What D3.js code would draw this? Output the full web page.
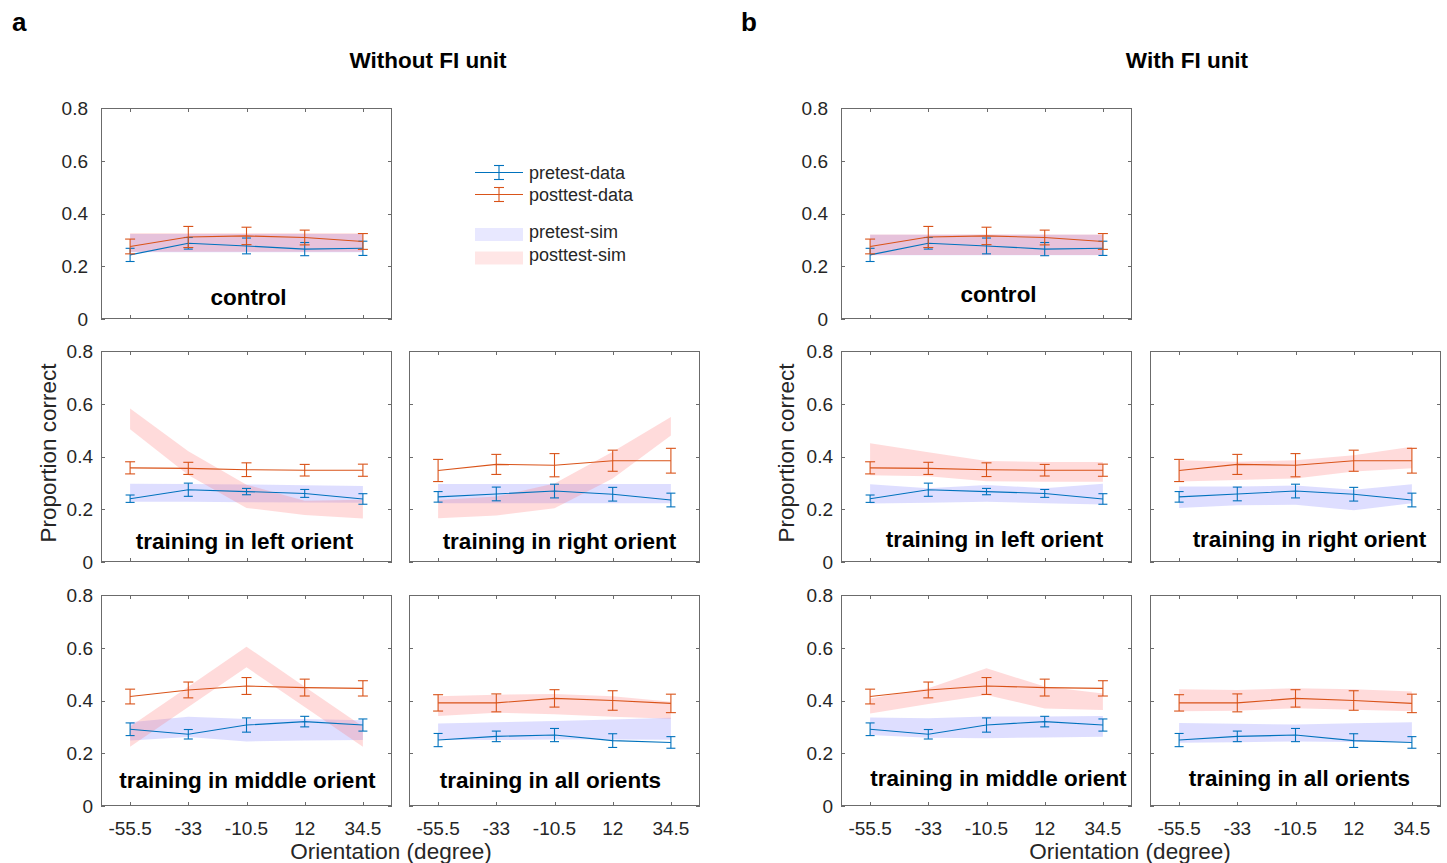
<!DOCTYPE html>
<html>
<head>
<meta charset="utf-8">
<script src="https://cdn.jsdelivr.net/npm/d3@7/dist/d3.min.js"></script>
<style>
  html, body { margin: 0; padding: 0; background: #fff; }
  svg { display: block; font-family: "Liberation Sans", Arial, Helvetica, sans-serif; }
</style>
</head>
<body>
<svg id="fig" width="1447" height="863"></svg>
<script>
// ---- Orientation conditions and axis ticks ----
const orientations = [-55.5, -33, -10.5, 12, 34.5];
const xTickLabels = ["-55.5", "-33", "-10.5", "12", "34.5"];
const yTicks = [0, 0.2, 0.4, 0.6, 0.8];
const conditionNames = ["control", "training in left orient", "training in right orient",
                        "training in middle orient", "training in all orients"];

// ---- Behavioural data: mean proportion correct and error half-widths ----
const preControl      = [0.243, 0.287, 0.277, 0.265, 0.268];
const preControlErr   = [0.025, 0.022, 0.030, 0.025, 0.027];
const postControl     = [0.275, 0.311, 0.315, 0.309, 0.294];
const postControlErr  = [0.028, 0.040, 0.033, 0.028, 0.030];

const preLeft         = [0.240, 0.274, 0.267, 0.260, 0.239];
const preLeftErr      = [0.014, 0.025, 0.012, 0.015, 0.020];
const postLeft        = [0.357, 0.355, 0.350, 0.348, 0.348];
const postLeftErr     = [0.023, 0.023, 0.026, 0.022, 0.023];

const preRight        = [0.247, 0.258, 0.269, 0.257, 0.235];
const preRightErr     = [0.020, 0.026, 0.026, 0.026, 0.026];
const postRight       = [0.347, 0.370, 0.367, 0.384, 0.384];
const postRightErr    = [0.042, 0.038, 0.044, 0.040, 0.047];

const preMiddle       = [0.291, 0.272, 0.307, 0.320, 0.307];
const preMiddleErr    = [0.024, 0.018, 0.027, 0.020, 0.023];
const postMiddle      = [0.415, 0.440, 0.455, 0.449, 0.446];
const postMiddleErr   = [0.028, 0.030, 0.032, 0.032, 0.029];

const preAll          = [0.250, 0.264, 0.269, 0.248, 0.241];
const preAllErr       = [0.025, 0.020, 0.025, 0.026, 0.022];
const postAll         = [0.391, 0.391, 0.408, 0.400, 0.389];
const postAllErr      = [0.031, 0.034, 0.033, 0.037, 0.035];

// ---- Model simulations (lower / upper bound of the band), without FI unit ----
const simPreControlLoA  = [0.253, 0.253, 0.253, 0.253, 0.253];
const simPreControlHiA  = [0.322, 0.322, 0.322, 0.322, 0.322];
const simPostControlLoA = [0.255, 0.255, 0.255, 0.255, 0.255];
const simPostControlHiA = [0.325, 0.325, 0.325, 0.325, 0.325];

const simPreLeftLoA   = [0.228, 0.228, 0.227, 0.226, 0.225];
const simPreLeftHiA   = [0.297, 0.296, 0.294, 0.291, 0.288];
const simPostLeftLoA  = [0.503, 0.330, 0.205, 0.178, 0.165];
const simPostLeftHiA  = [0.582, 0.420, 0.293, 0.232, 0.236];

const simPreRightLoA  = [0.223, 0.223, 0.223, 0.223, 0.223];
const simPreRightHiA  = [0.296, 0.296, 0.296, 0.296, 0.296];
const simPostRightLoA = [0.166, 0.176, 0.204, 0.317, 0.480];
const simPostRightHiA = [0.235, 0.248, 0.298, 0.418, 0.550];

const simPreMiddleLoA  = [0.248, 0.262, 0.245, 0.248, 0.250];
const simPreMiddleHiA  = [0.318, 0.338, 0.330, 0.330, 0.325];
const simPostMiddleLoA = [0.225, 0.375, 0.526, 0.375, 0.225];
const simPostMiddleHiA = [0.301, 0.452, 0.604, 0.452, 0.301];

const simPreAllLoA    = [0.250, 0.250, 0.252, 0.252, 0.251];
const simPreAllHiA    = [0.313, 0.318, 0.322, 0.328, 0.335];
const simPostAllLoA   = [0.341, 0.354, 0.348, 0.338, 0.331];
const simPostAllHiA   = [0.416, 0.422, 0.425, 0.416, 0.395];

// ---- Model simulations, with FI unit ----
const simPreControlLoB  = [0.242, 0.242, 0.242, 0.242, 0.242];
const simPreControlHiB  = [0.319, 0.319, 0.319, 0.319, 0.319];
const simPostControlLoB = [0.243, 0.243, 0.243, 0.243, 0.243];
const simPostControlHiB = [0.320, 0.320, 0.320, 0.320, 0.320];

const simPreLeftLoB   = [0.222, 0.225, 0.228, 0.223, 0.218];
const simPreLeftHiB   = [0.295, 0.280, 0.292, 0.280, 0.297];
const simPostLeftLoB  = [0.329, 0.325, 0.306, 0.304, 0.304];
const simPostLeftHiB  = [0.450, 0.416, 0.383, 0.379, 0.379];

const simPreRightLoB  = [0.205, 0.215, 0.217, 0.196, 0.223];
const simPreRightHiB  = [0.286, 0.286, 0.290, 0.274, 0.295];
const simPostRightLoB = [0.305, 0.311, 0.317, 0.343, 0.355];
const simPostRightHiB = [0.386, 0.380, 0.386, 0.405, 0.437];

const simPreMiddleLoB  = [0.269, 0.259, 0.257, 0.260, 0.263];
const simPreMiddleHiB  = [0.336, 0.333, 0.339, 0.339, 0.341];
const simPostMiddleLoB = [0.351, 0.387, 0.421, 0.370, 0.364];
const simPostMiddleHiB = [0.408, 0.446, 0.522, 0.453, 0.427];

const simPreAllLoB    = [0.240, 0.242, 0.245, 0.243, 0.244];
const simPreAllHiB    = [0.315, 0.312, 0.309, 0.314, 0.318];
const simPostAllLoB   = [0.359, 0.361, 0.371, 0.365, 0.359];
const simPostAllHiB   = [0.443, 0.440, 0.446, 0.443, 0.434];

// ---- Styling ----
const BLUE = "#0072BD", ORANGE = "#D95319";
const PRE_FILL = "#5a5aff", PRE_OPACITY = 0.2;
const POST_FILL = "#ff6f6f", POST_OPACITY = 0.25;
const AXIS = "#6b6b6b", TICK_TEXT = "#262626";

// ---- Panel table: condition, data and simulation per subplot ----
const dataByCond = [
  { pre: preControl, preErr: preControlErr, post: postControl, postErr: postControlErr },
  { pre: preLeft,    preErr: preLeftErr,    post: postLeft,    postErr: postLeftErr },
  { pre: preRight,   preErr: preRightErr,   post: postRight,   postErr: postRightErr },
  { pre: preMiddle,  preErr: preMiddleErr,  post: postMiddle,  postErr: postMiddleErr },
  { pre: preAll,     preErr: preAllErr,     post: postAll,     postErr: postAllErr }
];
const simA = [
  [simPreControlLoA, simPreControlHiA, simPostControlLoA, simPostControlHiA],
  [simPreLeftLoA, simPreLeftHiA, simPostLeftLoA, simPostLeftHiA],
  [simPreRightLoA, simPreRightHiA, simPostRightLoA, simPostRightHiA],
  [simPreMiddleLoA, simPreMiddleHiA, simPostMiddleLoA, simPostMiddleHiA],
  [simPreAllLoA, simPreAllHiA, simPostAllLoA, simPostAllHiA]
];
const simB = [
  [simPreControlLoB, simPreControlHiB, simPostControlLoB, simPostControlHiB],
  [simPreLeftLoB, simPreLeftHiB, simPostLeftLoB, simPostLeftHiB],
  [simPreRightLoB, simPreRightHiB, simPostRightLoB, simPostRightHiB],
  [simPreMiddleLoB, simPreMiddleHiB, simPostMiddleLoB, simPostMiddleHiB],
  [simPreAllLoB, simPreAllHiB, simPostAllLoB, simPostAllHiB]
];

// subplot grid geometry
const colX = { A: [101, 409], B: [841, 1150] };
const rowY = [108, 351, 595];
const PW = 291, PH = 211;
// [condition index, row, col, label nudge x, label baseline offset from bottom]
const gridA = [[0, 0, 0, 2, 14], [1, 1, 0, -2, 13], [2, 1, 1, 5, 13], [3, 2, 0, 1, 18], [4, 2, 1, -4, 18]];
const gridB = [[0, 0, 0, 12, 17], [1, 1, 0, 8, 15], [2, 1, 1, 14, 15], [3, 2, 0, 12, 20], [4, 2, 1, 4, 20]];

const svg = d3.select("#fig");

function drawPanel(model, spec, sims) {
  const [ci, row, col, labelDx, labelDy] = spec;
  const x0 = colX[model][col], y0 = rowY[row];
  const g = svg.append("g").attr("transform", `translate(${x0},${y0})`);

  const x = d3.scalePoint().domain(orientations).range([0, PW]).padding(0.5);
  const y = d3.scaleLinear().domain([0, 0.8]).range([PH, 0]);

  const [preLo, preHi, postLo, postHi] = sims[ci];
  const d = dataByCond[ci];

  const band = d3.area()
    .x((v, i) => x(orientations[i]))
    .y0(v => y(v[0]))
    .y1(v => y(v[1]));

  g.append("path").datum(d3.zip(preLo, preHi))
    .attr("d", band).attr("fill", PRE_FILL).attr("fill-opacity", PRE_OPACITY);
  g.append("path").datum(d3.zip(postLo, postHi))
    .attr("d", band).attr("fill", POST_FILL).attr("fill-opacity", POST_OPACITY);

  const line = d3.line().x((v, i) => x(orientations[i])).y(v => y(v));

  function series(vals, errs, color, cap) {
    g.append("path").datum(vals).attr("d", line)
      .attr("fill", "none").attr("stroke", color).attr("stroke-width", 1.1);
    const eb = g.append("g").attr("stroke", color).attr("stroke-width", 1.1);
    vals.forEach((v, i) => {
      const cx = x(orientations[i]);
      const top = y(v + errs[i]), bot = y(v - errs[i]);
      eb.append("line").attr("x1", cx).attr("x2", cx).attr("y1", top).attr("y2", bot);
      eb.append("line").attr("x1", cx - cap).attr("x2", cx + cap).attr("y1", top).attr("y2", top);
      eb.append("line").attr("x1", cx - cap).attr("x2", cx + cap).attr("y1", bot).attr("y2", bot);
    });
  }
  series(d.pre, d.preErr, BLUE, 4.5);
  series(d.post, d.postErr, ORANGE, 5);

  // box with inward ticks on all four sides
  const tick = 4;
  const axG = g.append("g").attr("stroke", AXIS).attr("stroke-width", 1).attr("fill", "none");
  axG.append("rect").attr("x", 0.5).attr("y", 0.5).attr("width", PW - 1).attr("height", PH - 1);
  orientations.forEach(o => {
    const tx = Math.round(x(o)) + 0.5;
    axG.append("line").attr("x1", tx).attr("x2", tx).attr("y1", PH).attr("y2", PH - tick);
    axG.append("line").attr("x1", tx).attr("x2", tx).attr("y1", 0).attr("y2", tick);
  });
  yTicks.forEach(t => {
    const ty = Math.round(y(t)) + 0.5;
    axG.append("line").attr("x1", 0).attr("x2", tick).attr("y1", ty).attr("y2", ty);
    axG.append("line").attr("x1", PW).attr("x2", PW - tick).attr("y1", ty).attr("y2", ty);
  });

  // tick labels
  if (col === 0) {
    const gap = row === 0 ? 13 : 8;
    g.append("g").selectAll("text").data(yTicks).join("text")
      .attr("x", -gap).attr("y", t => y(t)).attr("dy", "0.36em")
      .attr("text-anchor", "end").attr("font-size", 19).attr("fill", TICK_TEXT)
      .text(t => t === 0 ? "0" : d3.format(".1f")(t));
  }
  if (row === 2) {
    g.append("g").selectAll("text").data(orientations).join("text")
      .attr("x", o => x(o)).attr("y", PH + 22).attr("dy", "0.36em")
      .attr("text-anchor", "middle").attr("font-size", 19).attr("fill", TICK_TEXT)
      .text((o, i) => xTickLabels[i]);
  }

  // condition name
  g.append("text")
    .attr("x", PW / 2 + labelDx).attr("y", PH - labelDy)
    .attr("text-anchor", "middle").attr("font-size", 22.5).attr("font-weight", "bold")
    .attr("fill", "#000").text(conditionNames[ci]);
}

gridA.forEach(s => drawPanel("A", s, simA));
gridB.forEach(s => drawPanel("B", s, simB));

// figure letters and column titles
svg.append("text").attr("x", 12).attr("y", 31).attr("font-size", 26).attr("font-weight", "bold").text("a");
svg.append("text").attr("x", 741).attr("y", 31).attr("font-size", 26).attr("font-weight", "bold").text("b");
svg.append("text").attr("x", 428).attr("y", 68).attr("text-anchor", "middle")
  .attr("font-size", 22.5).attr("font-weight", "bold").text("Without FI unit");
svg.append("text").attr("x", 1187).attr("y", 68).attr("text-anchor", "middle")
  .attr("font-size", 22.5).attr("font-weight", "bold").text("With FI unit");

// axis titles
[[48, 453], [786, 453]].forEach(([cx, cy]) => {
  svg.append("text").attr("transform", `translate(${cx},${cy}) rotate(-90)`)
    .attr("text-anchor", "middle").attr("dy", "0.36em")
    .attr("font-size", 22.5).attr("fill", TICK_TEXT).text("Proportion correct");
});
[391, 1130].forEach(cx => {
  svg.append("text").attr("x", cx).attr("y", 859).attr("text-anchor", "middle")
    .attr("font-size", 22.5).attr("fill", TICK_TEXT).text("Orientation (degree)");
});

// legend
const legend = svg.append("g").attr("transform", "translate(475,0)");
const legendLines = [
  { label: "pretest-data", color: BLUE, y: 172.5 },
  { label: "posttest-data", color: ORANGE, y: 194.5 }
];
legendLines.forEach(l => {
  const lg = legend.append("g").attr("stroke", l.color).attr("stroke-width", 1.1);
  lg.append("line").attr("x1", 0).attr("x2", 48).attr("y1", l.y).attr("y2", l.y);
  lg.append("line").attr("x1", 24).attr("x2", 24).attr("y1", l.y - 7).attr("y2", l.y + 7);
  lg.append("line").attr("x1", 19).attr("x2", 29).attr("y1", l.y - 7).attr("y2", l.y - 7);
  lg.append("line").attr("x1", 19).attr("x2", 29).attr("y1", l.y + 7).attr("y2", l.y + 7);
  legend.append("text").attr("x", 54).attr("y", l.y).attr("dy", "0.36em")
    .attr("font-size", 18).attr("fill", TICK_TEXT).text(l.label);
});
const legendPatches = [
  { label: "pretest-sim", fill: PRE_FILL, op: PRE_OPACITY * 0.7, y: 234.5 },
  { label: "posttest-sim", fill: POST_FILL, op: POST_OPACITY * 0.7, y: 258 }
];
legendPatches.forEach(p => {
  legend.append("rect").attr("x", 0).attr("y", p.y - 6.5).attr("width", 48).attr("height", 13)
    .attr("fill", p.fill).attr("fill-opacity", p.op);
  legend.append("text").attr("x", 54).attr("y", p.y - 3).attr("dy", "0.36em")
    .attr("font-size", 18).attr("fill", TICK_TEXT).text(p.label);
});
</script>
</body>
</html>
